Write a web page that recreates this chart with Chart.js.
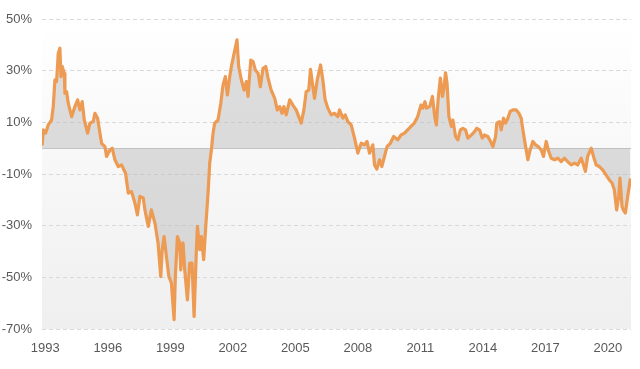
<!DOCTYPE html>
<html>
<head>
<meta charset="utf-8">
<script src="https://cdn.jsdelivr.net/npm/chart.js@4/dist/chart.umd.min.js"></script>
<style>
html,body{margin:0;padding:0;background:#fff;}
#c{display:block;}
</style>
</head>
<body>
<canvas id="c" width="640" height="369"></canvas>
<script>
// time (decimal year) of each observation
const years = [
1992.85,1992.90,1993.01,1993.14,1993.30,1993.38,1993.46,1993.54,1993.62,1993.70,
1993.75,1993.81,1993.91,1993.94,1994.02,1994.10,1994.26,1994.42,1994.55,1994.66,
1994.77,1994.87,1995.03,1995.14,1995.30,1995.38,1995.51,1995.57,1995.70,1995.86,
1995.94,1996.10,1996.21,1996.34,1996.50,1996.66,1996.85,1996.98,1997.14,1997.30,
1997.42,1997.54,1997.70,1997.78,1997.94,1998.09,1998.26,1998.41,1998.54,1998.61,
1998.70,1998.81,1998.93,1999.05,1999.18,1999.24,1999.34,1999.45,1999.50,1999.61,
1999.69,1999.82,1999.93,2000.04,2000.14,2000.25,2000.30,2000.41,2000.49,2000.60,
2000.70,2000.81,2000.89,2000.97,2001.05,2001.13,2001.29,2001.42,2001.53,2001.64,
2001.74,2001.85,2001.93,2002.06,2002.20,2002.28,2002.41,2002.54,2002.65,2002.73,
2002.86,2002.97,2003.08,2003.21,2003.32,2003.45,2003.58,2003.69,2003.84,2004.01,
2004.13,2004.25,2004.36,2004.45,2004.56,2004.73,2004.88,2005.04,2005.28,2005.41,
2005.52,2005.64,2005.73,2005.84,2005.92,2006.05,2006.21,2006.32,2006.43,2006.56,
2006.72,2006.88,2007.04,2007.12,2007.28,2007.39,2007.52,2007.68,2007.84,2008.00,
2008.16,2008.32,2008.44,2008.56,2008.72,2008.80,2008.91,2009.04,2009.15,2009.28,
2009.40,2009.56,2009.72,2009.91,2010.07,2010.24,2010.39,2010.55,2010.71,2010.87,
2011.03,2011.11,2011.22,2011.29,2011.45,2011.58,2011.69,2011.77,2011.85,2011.96,
2012.06,2012.12,2012.21,2012.28,2012.37,2012.49,2012.56,2012.69,2012.80,2012.92,
2013.04,2013.17,2013.28,2013.45,2013.60,2013.71,2013.84,2013.97,2014.08,2014.24,
2014.37,2014.48,2014.61,2014.67,2014.80,2014.88,2014.99,2015.09,2015.20,2015.31,
2015.44,2015.60,2015.73,2015.84,2015.92,2016.05,2016.16,2016.27,2016.40,2016.53,
2016.66,2016.80,2016.91,2017.04,2017.16,2017.28,2017.44,2017.60,2017.76,2017.92,
2018.07,2018.24,2018.40,2018.55,2018.72,2018.83,2018.92,2019.03,2019.20,2019.31,
2019.44,2019.59,2019.75,2019.91,2020.07,2020.20,2020.31,2020.42,2020.52,2020.58,
2020.68,2020.74,2020.84,2020.95,2021.07
];
// relative value, %
const values = [
1.5,7.1,5.8,9.0,10.9,16.1,26.4,25.8,36.7,38.7,
27.7,31.6,29.0,21.3,21.9,17.4,12.2,16.1,18.7,14.8,
18.0,10.9,5.8,9.7,10.3,13.5,11.6,8.4,1.9,0.6,
-3.2,-0.7,0.0,-4.5,-7.1,-6.5,-9.7,-17.4,-16.8,-21.3,
-25.8,-18.7,-19.3,-23.9,-30.3,-23.9,-29.0,-36.7,-49.7,-39.3,
-34.2,-41.9,-49.7,-52.2,-66.4,-49.7,-34.2,-36.7,-47.1,-36.7,
-47.1,-58.7,-44.5,-44.5,-65.1,-39.3,-30.3,-39.3,-34.2,-43.2,
-30.3,-17.4,-5.8,-0.7,5.8,9.7,10.9,17.4,24.5,27.7,
20.6,27.7,31.6,36.7,41.9,31.6,26.4,22.5,25.8,20.0,
34.1,33.5,30.3,29.0,23.8,30.9,31.6,27.1,22.5,19.3,
14.8,16.1,13.5,16.1,12.9,18.7,16.7,14.8,9.7,14.8,
21.9,22.5,30.5,23.8,19.3,26.4,32.2,26.4,18.7,15.5,
12.9,13.5,12.2,14.8,11.6,12.9,10.3,9.0,3.9,-1.9,
1.9,1.3,2.6,-1.9,1.3,-6.5,-8.1,-4.5,-7.1,-3.2,
0.6,1.9,4.5,3.2,5.1,5.8,7.1,8.4,9.7,12.2,
16.7,15.5,18.0,15.5,16.1,20.0,12.2,9.0,18.7,27.1,
20.0,22.5,29.2,25.1,12.2,8.4,10.9,4.5,3.2,7.1,
7.7,7.1,3.9,5.1,6.4,7.7,7.1,3.9,5.1,4.5,
2.6,0.6,4.5,9.7,10.3,7.1,11.6,9.7,11.6,14.2,
14.8,14.8,13.5,11.6,7.1,0.6,-4.5,-0.7,2.6,1.3,
0.6,-0.7,-3.2,2.6,-1.3,-3.9,-4.5,-3.9,-5.2,-3.9,
-5.2,-6.5,-5.8,-6.5,-3.9,-6.5,-9.0,-3.2,0.0,-3.2,
-6.5,-7.1,-8.4,-10.3,-12.3,-13.5,-16.1,-23.9,-18.7,-11.6,
-22.6,-23.9,-25.1,-18.7,-12.3
];
const xTickYears = [1993,1996,1999,2002,2005,2008,2011,2014,2017,2020];
const yTickValues = [-70,-50,-30,-10,0,10,30,50];

const labelFont = {family: "'Liberation Sans', Arial, sans-serif", size: 13};
const labelColor = '#595959';

const bgPlugin = {
  id: 'plotBg',
  beforeDraw(chart) {
    const a = chart.chartArea, ctx = chart.ctx;
    const g = ctx.createLinearGradient(0, a.top, 0, a.bottom);
    g.addColorStop(0, '#ffffff');
    g.addColorStop(1, '#efefef');
    ctx.save();
    ctx.fillStyle = g;
    ctx.fillRect(a.left, a.top, a.right - a.left, a.bottom - a.top);
    ctx.restore();
  }
};

new Chart(document.getElementById('c'), {
  type: 'line',
  data: {
    datasets: [{
      data: years.map((t, i) => ({x: t, y: values[i]})),
      borderColor: '#ED9A52',
      borderWidth: 3.2,
      borderJoinStyle: 'round',
      borderCapStyle: 'round',
      pointRadius: 0,
      tension: 0,
      fill: {target: 'origin', above: 'rgba(185,185,185,0.48)', below: 'rgba(185,185,185,0.48)'}
    }]
  },
  plugins: [bgPlugin],
  options: {
    responsive: false,
    animation: false,
    layout: {padding: {top: 19, right: 9, left: 0, bottom: 0}},
    plugins: {legend: {display: false}, tooltip: {enabled: false}},
    scales: {
      x: {
        type: 'linear',
        min: 1992.84,
        max: 2021.11,
        afterBuildTicks: s => { s.ticks = xTickYears.map(v => ({value: v})); },
        afterFit: s => { s.height = 40; },
        grid: {display: false, drawTicks: false},
        border: {display: false},
        ticks: {
          autoSkip: false, maxRotation: 0, padding: 12,
          font: labelFont, color: labelColor,
          callback: v => String(v)
        }
      },
      y: {
        type: 'linear',
        min: -70,
        max: 50,
        afterBuildTicks: s => { s.ticks = yTickValues.map(v => ({value: v})); },
        afterFit: s => { s.width = 42; },
        grid: {
          drawTicks: false,
          lineWidth: 1,
          color: c => (c.tick && c.tick.value === 0) ? '#c4c4c4' : '#d9d9d9'
        },
        border: {
          display: false,
          dash: c => (c.tick && c.tick.value === 0) ? [] : [4, 3]
        },
        ticks: {
          padding: 10,
          font: labelFont, color: labelColor,
          callback: v => v === 0 ? '' : v + '%'
        }
      }
    }
  }
});
</script>
</body>
</html>
